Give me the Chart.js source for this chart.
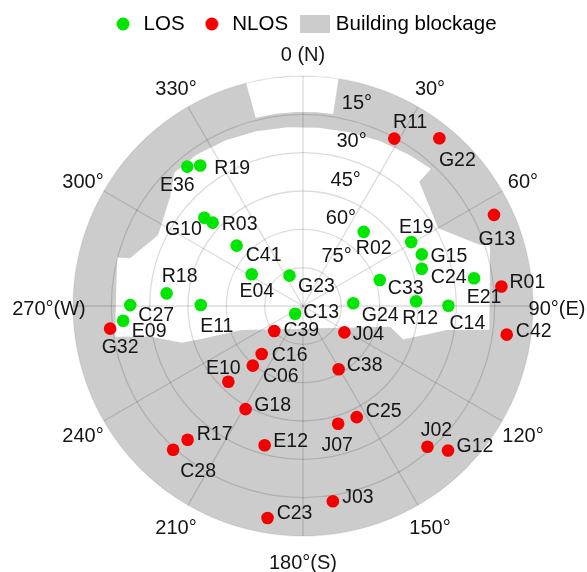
<!DOCTYPE html>
<html>
<head>
<meta charset="utf-8">
<title>Sky plot</title>
<script src="https://cdn.jsdelivr.net/npm/chart.js@4.4.1/dist/chart.umd.min.js"></script>
<style>
  html, body { margin: 0; padding: 0; background: #fff; }
</style>
</head>
<body>
<canvas id="sky" width="587" height="572"></canvas>
<script>
// Satellites in line of sight (azimuth deg, elevation deg)
const losNames = ['E36', 'R19', 'G10', 'R03', 'C41', 'E04', 'G23', 'R18', 'C27', 'E09', 'E11',
                  'C13', 'R02', 'E19', 'G15', 'C24', 'C33', 'E21', 'G24', 'R12', 'C14'];
const losAz = [320.3, 323.8, 311.8, 312.7, 312.3, 301.8, 336.0, 275.3, 270.3, 265.3, 270.6,
               225.5, 39.3, 59.4, 66.5, 72.6, 71.3, 80.8, 86.9, 87.6, 89.9];
const losEl = [19.1, 21.9, 38.2, 41.9, 54.9, 66.4, 77.0, 36.4, 22.4, 19.4, 50.0,
               85.7, 52.5, 40.8, 39.3, 41.3, 58.3, 22.2, 70.3, 45.7, 33.1];

// Blocked satellites
const nlosNames = ['R11', 'G22', 'G13', 'R01', 'C42', 'G32', 'C39', 'J04', 'C16', 'C06', 'E10',
                   'C38', 'G18', 'C25', 'J07', 'R17', 'C28', 'E12', 'J02', 'G12', 'J03', 'C23'];
const nlosAz = [28.6, 39.1, 64.5, 84.4, 98.0, 263.3, 229.0, 122.5, 220.7, 220.1, 224.6,
                150.6, 209.1, 154.2, 163.4, 220.8, 222.1, 195.4, 138.5, 134.9, 171.3, 189.5];
const nlosEl = [15.4, 5.4, 7.2, 12.0, 9.5, 14.0, 75.1, 70.8, 65.2, 59.5, 48.4,
                61.6, 43.8, 41.7, 41.9, 20.9, 14.2, 33.5, 16.5, 9.9, 12.7, 5.9];

// Outline of the open sky; the rest of the horizon disc is blocked by buildings
const skyAz = [316, 325, 335, 345, 355, 5, 15, 25, 35, 43, 43.1, 60.1, 71.0, 71.9,
               97.3, 99.5, 108.4, 103.4, 248.6, 252.1, 253.2, 258.7, 260.7,
               284.6, 285.4, 296.1, 309.4];
const skyEl = [17.5, 17.6, 18.4, 19.2, 19.8, 20.0, 19.6, 18.8, 17.7, 16.6, 23.4, 29.0, 16.7, 13.0,
               16.5, 33.0, 48.6, 55.0, 64.2, 47.6, 40.4, 29.0, 15.5,
               14.8, 19.8, 26.9, 22.7];

// Low gap between the rooftops to the north
const gapAz = [345.7, 345.9, 352, 358, 4, 8.9, 8.9, 4, 358, 352];
const gapEl = [0, 14, 14, 14, 14, 14, 0, 0, 0, 0];

// Grid
const ringEl = [15, 30, 45, 60, 75];
const ringLabels = ['15°', '30°', '45°', '60°', '75°'];
const spokeAz = [0, 30, 60, 90, 120, 150, 180, 210, 240, 270, 300, 330];
const spokeLabels = ['0 (N)', '30°', '60°', '90°(E)', '120°', '150°', '180°(S)',
                     '210°', '240°', '270°(W)', '300°', '330°'];

// where the elevation ring labels sit (azimuth, elevation)
const ringLabelAz = [14.8, 16.3, 18.5, 23, 33.2];
const ringLabelEl = [7.3, 22.3, 37.3, 52, 66];

// label centre offsets from each dot, px
const labelOffset = {
  E36: [-10, 17], R19: [32, 1], G10: [-21, 10], R03: [27, 0], C41: [27, 8], E04: [5, 15],
  G23: [27, 9], R18: [13, -19], C27: [26, 9], E09: [26, 9], E11: [16, 20], C13: [26, -3],
  R02: [10, 15], E19: [5, -16], G15: [27, 0], C24: [27, 7], C33: [26, 7], E21: [10, 17],
  G24: [27, 10], R12: [4, 15], C14: [19, 16],
  R11: [16, -18], G22: [18, 20], G13: [3, 23], R01: [26, -6], C42: [27, -5], G32: [10, 17],
  C39: [27, -2], J04: [24, 0], C16: [28, 0], C06: [28, 9], E10: [-5, -15], C38: [26, -6],
  G18: [27, -6], C25: [27, -8], J07: [-1, 20], R17: [27, -7], C28: [25, 20], E12: [26, -6],
  J02: [9, -18], G12: [27, -6], J03: [25, -6], C23: [27, -6]
};

const losColor = '#00e600';
const nlosColor = '#f50000';
const blockColor = '#cccccc';
const textColor = '#151515';
const fontFamily = "'Liberation Sans', Arial, sans-serif";
const nudge = 2; // 'middle' baseline sits a little high for these glyphs

// horizon circle geometry on the canvas
const CX = 303, CY = 306, RPX = 230;
const k = RPX / 90;

// zenith distance -> plane coordinates, north up, east right
const toXY = (az, el) => {
  const r = 90 - el, a = az * Math.PI / 180;
  return { x: r * Math.sin(a), y: r * Math.cos(a) };
};

function dotIcon(color) {
  const c = document.createElement('canvas');
  c.width = 14; c.height = 14;
  const g = c.getContext('2d');
  g.fillStyle = color;
  g.beginPath();
  g.arc(7, 7, 6.5, 0, Math.PI * 2);
  g.fill();
  return c;
}

function boxIcon(color) {
  const c = document.createElement('canvas');
  c.width = 30; c.height = 18;
  const g = c.getContext('2d');
  g.fillStyle = color;
  g.fillRect(0, 0, 30, 18);
  return c;
}

const legendItems = [
  { text: 'LOS', pointStyle: dotIcon(losColor), fillStyle: losColor },
  { text: 'NLOS', pointStyle: dotIcon(nlosColor), fillStyle: nlosColor },
  { text: 'Building blockage', pointStyle: boxIcon(blockColor), fillStyle: blockColor }
].map((it, i) => Object.assign(it, { strokeStyle: 'transparent', lineWidth: 0, hidden: false, datasetIndex: i }));

const skyPlot = {
  id: 'skyPlot',
  beforeDatasetsDraw(chart) {
    const { ctx, scales: { x, y } } = chart;
    const cx = x.getPixelForValue(0), cy = y.getPixelForValue(0);
    const px = (az, el) => {
      const p = toXY(az, el);
      return [x.getPixelForValue(p.x), y.getPixelForValue(p.y)];
    };
    const rad = el => x.getPixelForValue(90 - el) - cx;

    ctx.save();
    // building blockage: horizon disc minus the open sky
    ctx.beginPath();
    ctx.arc(cx, cy, rad(0), 0, Math.PI * 2);
    [[skyAz, skyEl], [gapAz, gapEl]].forEach(([az, el]) => {
      az.forEach((a, i) => {
        const [u, v] = px(a, el[i]);
        if (i) ctx.lineTo(u, v); else ctx.moveTo(u, v);
      });
      ctx.closePath();
    });
    ctx.fillStyle = blockColor;
    ctx.fill('evenodd');

    // rings and spokes
    ctx.strokeStyle = 'rgba(0,0,0,0.14)';
    ctx.lineWidth = 1.3;
    ringEl.forEach(e => {
      ctx.beginPath();
      ctx.arc(cx, cy, rad(e), 0, Math.PI * 2);
      ctx.stroke();
    });
    spokeAz.forEach(a => {
      const [u, v] = px(a, 0);
      ctx.beginPath();
      ctx.moveTo(cx, cy);
      ctx.lineTo(u, v);
      ctx.stroke();
    });
    ctx.strokeStyle = 'rgba(0,0,0,0.07)';
    ctx.beginPath();
    ctx.arc(cx, cy, rad(0), 0, Math.PI * 2);
    ctx.stroke();

    // azimuth and elevation labels
    ctx.fillStyle = textColor;
    ctx.font = '20px ' + fontFamily;
    ctx.textAlign = 'center';
    ctx.textBaseline = 'middle';
    const rl = rad(0) + 24;
    spokeAz.forEach((a, i) => {
      const t = a * Math.PI / 180;
      ctx.fillText(spokeLabels[i], cx + rl * Math.sin(t), cy - rl * Math.cos(t) + nudge + 1);
    });
    ringLabels.forEach((s, i) => {
      const [u, v] = px(ringLabelAz[i], ringLabelEl[i]);
      ctx.fillText(s, u, v + nudge);
    });
    ctx.restore();
  },
  afterDatasetsDraw(chart) {
    const { ctx } = chart;
    ctx.save();
    ctx.fillStyle = textColor;
    ctx.font = '19.5px ' + fontFamily;
    ctx.textAlign = 'center';
    ctx.textBaseline = 'middle';
    chart.data.datasets.forEach((ds, di) => {
      chart.getDatasetMeta(di).data.forEach((pt, i) => {
        const name = ds.names[i];
        const [dx, dy] = labelOffset[name] || [26, 0];
        ctx.fillText(name, pt.x + dx, pt.y + dy + nudge);
      });
    });
    ctx.restore();
  }
};

const chart = new Chart(document.getElementById('sky'), {
  type: 'scatter',
  data: {
    datasets: [
      {
        label: 'LOS',
        names: losNames,
        data: losAz.map((a, i) => toXY(a, losEl[i])),
        backgroundColor: losColor,
        borderWidth: 0,
        pointRadius: 6.3
      },
      {
        label: 'NLOS',
        names: nlosNames,
        data: nlosAz.map((a, i) => toXY(a, nlosEl[i])),
        backgroundColor: nlosColor,
        borderWidth: 0,
        pointRadius: 6.3
      }
    ]
  },
  options: {
    responsive: false,
    animation: false,
    events: [],
    layout: { padding: { top: -3.25, left: 22.35, right: 0, bottom: 0 } },
    scales: {
      x: { type: 'linear', display: false, min: -100, max: 100 },
      y: { type: 'linear', display: false, min: -100, max: 100 }
    },
    plugins: {
      tooltip: { enabled: false },
      legend: {
        position: 'top',
        labels: {
          usePointStyle: true,
          padding: 17,
          color: textColor,
          font: { size: 20.5, family: fontFamily },
          generateLabels: () => legendItems
        }
      }
    }
  },
  plugins: [skyPlot]
});

// fit the axis ranges to the plot area so the horizon circle lands where we want it
const area = chart.chartArea;
chart.options.scales.x.min = -(CX - area.left) / k;
chart.options.scales.x.max = (area.right - CX) / k;
chart.options.scales.y.min = -(area.bottom - CY) / k;
chart.options.scales.y.max = (CY - area.top) / k;
chart.update();
</script>
</body>
</html>
